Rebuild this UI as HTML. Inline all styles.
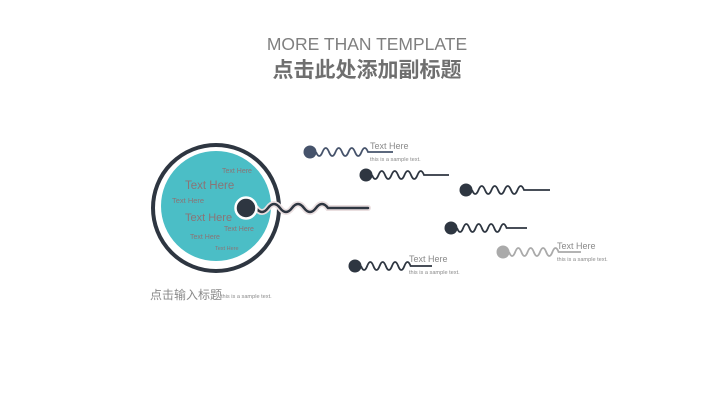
<!DOCTYPE html>
<html><head><meta charset="utf-8"><style>
html,body{margin:0;padding:0;background:#fff;width:720px;height:405px;overflow:hidden}
svg{display:block}
text{font-family:"Liberation Sans","Noto Sans CJK SC",sans-serif}
</style></head><body>
<svg width="720" height="405" viewBox="0 0 720 405" xmlns="http://www.w3.org/2000/svg">
<text x="367" y="50" text-anchor="middle" font-size="17.5" fill="#7f7f7f">MORE THAN TEMPLATE</text>
<text x="367" y="77" text-anchor="middle" font-size="21" font-weight="bold" fill="#6f6f6f" style="font-family:'Noto Sans CJK SC',sans-serif">点击此处添加副标题</text>

<circle cx="216" cy="208" r="63" fill="none" stroke="#2e3641" stroke-width="4"/>
<circle cx="216" cy="206" r="55" fill="#4bbec6"/>
<g fill="#8a7476">
<text x="222" y="173" font-size="7">Text Here</text>
<text x="185" y="189" font-size="11.5">Text Here</text>
<text x="172" y="203" font-size="7.5">Text Here</text>
<text x="185" y="221" font-size="11">Text Here</text>
<text x="224" y="231" font-size="7">Text Here</text>
<text x="190" y="239" font-size="7">Text Here</text>
<text x="215" y="250" font-size="5.5">Text Here</text>
</g>

<g fill="none" stroke-linecap="round">
<path d="M256 208 q6 8 12 0 t12 0 t12 0 t12 0 t12 0 t12 0 L368 208" stroke="#eadfe0" stroke-width="6"/>
<path d="M256 208 q6 8 12 0 t12 0 t12 0 t12 0 t12 0 t12 0 L368 208" stroke="#2e3641" stroke-width="2.5"/>
</g>
<circle cx="246" cy="208" r="10.5" fill="#2e3641" stroke="#fff" stroke-width="2.5"/>

<g fill="none" stroke-width="1.8">
<path d="M316 152 q3.25 8 6.5 0 t6.5 0 t6.5 0 t6.5 0 t6.5 0 t6.5 0 t6.5 0 t6.5 0 L393 152" stroke="#46536b"/>
<path d="M372 175 q3.25 8 6.5 0 t6.5 0 t6.5 0 t6.5 0 t6.5 0 t6.5 0 t6.5 0 t6.5 0 L449 175" stroke="#2e3641"/>
<path d="M472 190 q3.25 8 6.5 0 t6.5 0 t6.5 0 t6.5 0 t6.5 0 t6.5 0 t6.5 0 t6.5 0 L550 190" stroke="#2e3641"/>
<path d="M457 228 q3.1 8 6.2 0 t6.2 0 t6.2 0 t6.2 0 t6.2 0 t6.2 0 t6.2 0 t6.2 0 L527 228" stroke="#2e3641"/>
<path d="M509 252 q3.1 8 6.2 0 t6.2 0 t6.2 0 t6.2 0 t6.2 0 t6.2 0 t6.2 0 t6.2 0 L581 252" stroke="#aaaaaa"/>
<path d="M361 266 q3.1 8 6.2 0 t6.2 0 t6.2 0 t6.2 0 t6.2 0 t6.2 0 t6.2 0 t6.2 0 L432 266" stroke="#2e3641"/>
</g>
<circle cx="310" cy="152" r="6.5" fill="#46536b"/>
<circle cx="366" cy="175" r="6.5" fill="#2e3641"/>
<circle cx="466" cy="190" r="6.5" fill="#2e3641"/>
<circle cx="451" cy="228" r="6.5" fill="#2e3641"/>
<circle cx="503" cy="252" r="6.5" fill="#aaaaaa"/>
<circle cx="355" cy="266" r="6.5" fill="#2e3641"/>

<g fill="#8a8a8a">
<text x="370" y="149" font-size="9">Text Here</text>
<text x="370" y="161" font-size="5.6">this is a sample text.</text>
<text x="557" y="249" font-size="9">Text Here</text>
<text x="557" y="261" font-size="5.6">this is a sample text.</text>
<text x="409" y="262" font-size="9">Text Here</text>
<text x="409" y="274" font-size="5.6">this is a sample text.</text>
</g>
<text x="150" y="299" font-size="12" fill="#8a8a8a" style="font-family:'Noto Sans CJK SC',sans-serif">点击输入标题</text>
<text x="221" y="298" font-size="5.6" fill="#8a8a8a">this is a sample text.</text>
</svg>
</body></html>
